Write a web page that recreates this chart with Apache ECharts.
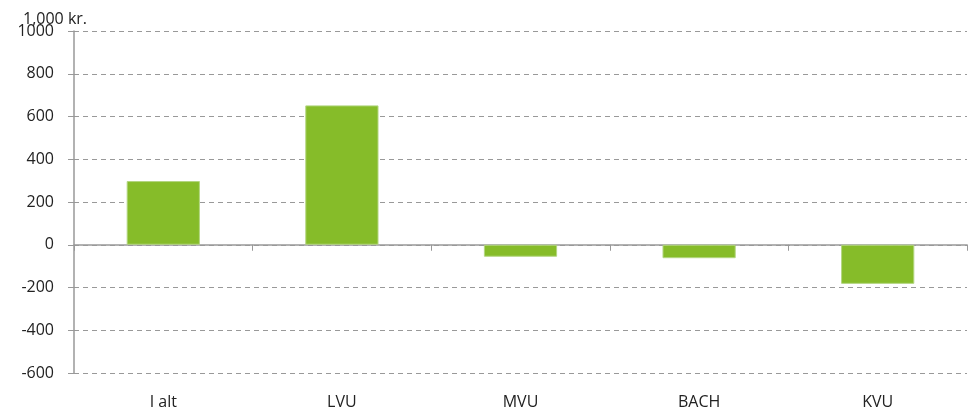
<!DOCTYPE html>
<html>
<head>
<meta charset="utf-8">
<script src="https://cdn.jsdelivr.net/npm/echarts@6/dist/echarts.min.js"></script>
<style>
  html, body { margin: 0; padding: 0; background: #fff; }
  #chart { width: 968px; height: 412px; }
</style>
</head>
<body>
<div id="chart"></div>
<script>
const categories = ['I alt', 'LVU', 'MVU', 'BACH', 'KVU']
const values = [298, 652, -56, -63, -183]
const yTicks = { min: -600, max: 1000, interval: 200 }

const chart = echarts.init(document.getElementById('chart'))

const font = '"Open Sans", "Noto Sans", sans-serif'

const option = {
  animation: false,
  title: {
    text: '1,000 kr.',
    left: 18,
    top: 6,
    textStyle: { fontFamily: font, fontSize: 16, fontWeight: 'normal', color: '#222' }
  },
  grid: { left: 74, right: 1, top: 31, bottom: 39 },
  xAxis: [
    {
      type: 'category',
      data: categories,
      position: 'bottom',
      axisLine: { onZero: true, lineStyle: { color: '#999', width: 1.5 } },
      axisTick: { show: true, length: 6, lineStyle: { color: '#999' } },
      axisLabel: { show: false },
      splitLine: { show: false }
    },
    {
      type: 'category',
      data: categories,
      position: 'bottom',
      axisLine: { show: false, onZero: false },
      axisTick: { show: false },
      axisLabel: { color: '#222', fontFamily: font, fontSize: 16, margin: 21 }
    }
  ],
  yAxis: {
    type: 'value',
    min: yTicks.min,
    max: yTicks.max,
    interval: yTicks.interval,
    axisLine: { show: true, lineStyle: { color: '#999', width: 1.5 } },
    axisTick: { show: true, length: 6, lineStyle: { color: '#999' } },
    axisLabel: { color: '#222', fontFamily: font, fontSize: 16, margin: 20, formatter: v => String(v) },
    splitLine: { show: true, lineStyle: { color: '#999', type: [5, 4], width: 1 } }
  },
  series: [
    {
      type: 'bar',
      data: values,
      barWidth: '41%',
      itemStyle: { color: '#86bc29', borderColor: '#b3d680', borderWidth: 1 }
    }
  ]
}

chart.setOption(option)
</script>
</body>
</html>
